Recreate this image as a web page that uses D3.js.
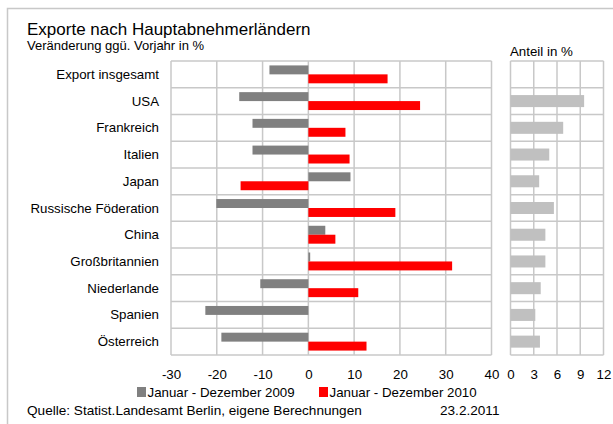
<!DOCTYPE html>
<html>
<head>
<meta charset="utf-8">
<script src="https://cdn.jsdelivr.net/npm/d3@7"></script>
<style>
  html, body { margin: 0; padding: 0; background: #fff; }
  svg { display: block; font-family: "Liberation Sans", Arial, sans-serif; }
</style>
</head>
<body>
<svg id="chart" width="613" height="424"></svg>
<script>
// Export change by main trading partner, Berlin
const categories = ["Export insgesamt", "USA", "Frankreich", "Italien", "Japan",
  "Russische Föderation", "China", "Großbritannien", "Niederlande", "Spanien", "Österreich"];
const change2009 = [-8.5, -15.1, -12.2, -12.2, 9.2, -20.1, 3.7, 0.4, -10.5, -22.5, -19.0];
const change2010 = [17.3, 24.4, 8.1, 9.0, -14.8, 19.0, 5.9, 31.4, 10.9, 0, 12.7];
const share = [null, 9.5, 6.8, 5.0, 3.7, 5.6, 4.5, 4.5, 3.9, 3.2, 3.8];
const changeTicks = [-30, -20, -10, 0, 10, 20, 30, 40];
const shareTicks = [0, 3, 6, 9, 12];
const seriesNames = ["Januar - Dezember 2009", "Januar - Dezember 2010"];
const seriesColors = ["#808080", "#ff0000"];

const svg = d3.select("#chart");
const gridColor = "#c8c8c8";
const fs = 13.3;

// outer frame
svg.append("rect").attr("x", 7.5).attr("y", 8.5).attr("width", 640).attr("height", 440)
  .attr("fill", "none").attr("stroke", "#c8c8c8").attr("stroke-width", 1.5);

// titles
svg.append("text").attr("x", 27).attr("y", 35).attr("font-size", 17).attr("fill", "#000")
  .text("Exporte nach Hauptabnehmerländern");
svg.append("text").attr("x", 27).attr("y", 50).attr("font-size", 13).attr("fill", "#000")
  .text("Veränderung ggü. Vorjahr in %");
svg.append("text").attr("x", 510).attr("y", 56).attr("font-size", fs).attr("fill", "#000")
  .text("Anteil in %");

const plotTop = 61, plotBottom = 355;
const x = d3.scaleLinear().domain([-30, 40]).range([171, 491.5]);
const xs = d3.scaleLinear().domain([0, 12]).range([510.5, 603.5]);
const rows = d3.scaleBand().domain(categories).range([plotTop, plotBottom]);
const yMain = d3.scaleBand().domain(categories).range([plotTop, plotBottom]).paddingInner(0.33).paddingOuter(0.165);
const ySeries = d3.scaleBand().domain([0, 1]).range([0, yMain.bandwidth()]);
const yShare = d3.scaleBand().domain(categories).range([plotTop, plotBottom]).paddingInner(0.55).paddingOuter(0.275);

function grid(g, xscale, ticks) {
  g.selectAll("line.v").data(ticks).join("line").attr("class", "v")
    .attr("x1", d => xscale(d)).attr("x2", d => xscale(d))
    .attr("y1", plotTop).attr("y2", plotBottom)
    .attr("stroke", gridColor).attr("stroke-width", 1.5);
  const bounds = categories.map(c => rows(c)).concat([plotBottom]);
  g.selectAll("line.h").data(bounds).join("line").attr("class", "h")
    .attr("x1", xscale.range()[0]).attr("x2", xscale.range()[1])
    .attr("y1", d => d).attr("y2", d => d)
    .attr("stroke", gridColor).attr("stroke-width", 1.5);
}

const gMain = svg.append("g");
grid(gMain, x, changeTicks);
const gShare = svg.append("g");
grid(gShare, xs, shareTicks);

// change bars
[change2009, change2010].forEach((vals, s) => {
  gMain.append("g").selectAll("rect").data(vals).join("rect")
    .attr("x", d => x(Math.min(0, d)))
    .attr("width", d => Math.abs(x(d) - x(0)))
    .attr("y", (d, i) => yMain(categories[i]) + ySeries(s))
    .attr("height", ySeries.bandwidth())
    .attr("fill", seriesColors[s]);
});

// share bars
gShare.append("g").selectAll("rect").data(share.map((v, i) => ({ v, c: categories[i] })).filter(d => d.v != null))
  .join("rect")
  .attr("x", xs(0)).attr("width", d => xs(d.v) - xs(0))
  .attr("y", d => yShare(d.c)).attr("height", yShare.bandwidth())
  .attr("fill", "#c0c0c0");

// category labels
svg.append("g").selectAll("text").data(categories).join("text")
  .attr("x", 159).attr("y", d => rows(d) + rows.bandwidth() / 2 + 4.5)
  .attr("text-anchor", "end").attr("font-size", fs).attr("fill", "#000")
  .text(d => d);

// axes tick labels (plain hyphen for negatives)
const plain = d => String(d);
const axisMain = d3.axisBottom(x).tickValues(changeTicks).tickFormat(plain).tickSize(0).tickPadding(0);
const axM = svg.append("g").attr("transform", `translate(0,${plotBottom + 15})`).call(axisMain);
axM.select(".domain").remove();
axM.selectAll("text").attr("font-size", fs).attr("font-family", "Liberation Sans, Arial, sans-serif").attr("fill", "#000");

const axisShare = d3.axisBottom(xs).tickValues(shareTicks).tickFormat(plain).tickSize(0).tickPadding(0);
const axS = svg.append("g").attr("transform", `translate(0,${plotBottom + 15})`).call(axisShare);
axS.select(".domain").remove();
axS.selectAll("text").attr("font-size", fs).attr("font-family", "Liberation Sans, Arial, sans-serif").attr("fill", "#000");

// legend
const legendX = [137, 319];
seriesNames.forEach((name, i) => {
  svg.append("rect").attr("x", legendX[i]).attr("y", 387).attr("width", 9).attr("height", 10)
    .attr("fill", seriesColors[i]);
  svg.append("text").attr("x", legendX[i] + 10.5).attr("y", 397).attr("font-size", fs)
    .attr("fill", "#000").text(name);
});

// source
svg.append("text").attr("x", 27).attr("y", 415).attr("font-size", 13.6).attr("fill", "#000")
  .text("Quelle: Statist.Landesamt Berlin, eigene Berechnungen");
svg.append("text").attr("x", 440).attr("y", 415).attr("font-size", 13.6).attr("fill", "#000")
  .text("23.2.2011");
</script>
</body>
</html>
